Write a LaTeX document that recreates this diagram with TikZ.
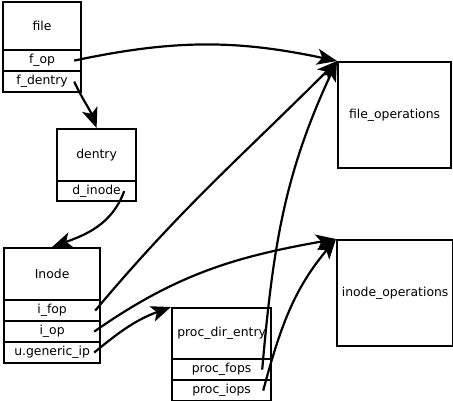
\documentclass[tikz,border=0pt]{standalone}
\usepackage{fontspec}
\setmainfont{DejaVu Sans}
\usetikzlibrary{arrows.meta}

\begin{document}
\begin{tikzpicture}[x=1pt,y=1pt,
  box/.style={draw,line width=2.2pt,anchor=north west,inner sep=0pt,
    font=\fontsize{12.4}{14}\selectfont},
  ptr/.style={line width=2.2pt,-{Stealth[length=20pt,width=16pt,inset=5pt]}}]
\useasboundingbox (0,0) rectangle (453,-401);

% struct file
\node[box,minimum width=78pt,minimum height=48pt] (file) at (2,-1) {file};
\node[box,minimum width=78pt,minimum height=21pt] (fop) at (2,-49) {f\_op};
\node[box,minimum width=78pt,minimum height=21pt] (fdentry) at (2,-70) {f\_dentry};

% struct dentry
\node[box,minimum width=79pt,minimum height=52pt] (dentry) at (56,-128) {dentry};
\node[box,minimum width=79pt,minimum height=20pt] (dinode) at (56,-180) {d\_inode};

% struct inode
\node[box,minimum width=96pt,minimum height=52pt] (inode) at (3,-247) {Inode};
\node[box,minimum width=96pt,minimum height=21pt] (ifop) at (3,-299) {i\_fop};
\node[box,minimum width=96pt,minimum height=21pt] (iop) at (3,-320) {i\_op};
\node[box,minimum width=96pt,minimum height=21pt] (generic) at (3,-341) {u.generic\_ip};

% struct proc_dir_entry
\node[box,minimum width=99pt,minimum height=51pt] (proc) at (171,-307) {proc\_dir\_entry};
\node[box,minimum width=99pt,minimum height=21pt] (pfops) at (171,-358) {proc\_fops};
\node[box,minimum width=99pt,minimum height=21pt] (piops) at (171,-379) {proc\_iops};

% operation tables
\node[box,minimum width=113pt,minimum height=106pt] (fileops) at (337,-61) {file\_operations};
\node[box,minimum width=116pt,minimum height=106pt] (inodeops) at (336,-239) {inode\_operations};

% pointers
\draw[ptr] ([xshift=-8pt]fop.east) to[out=12,in=168] (fileops.north west);
\draw[ptr] ([xshift=-8pt]fdentry.east) to[out=-65,in=110] (dentry.north);
\draw[ptr] ([xshift=-13pt]dinode.east) to[out=-110,in=20] (inode.north);
\draw[ptr] ([xshift=-6pt]ifop.east) to[out=50,in=-135] (fileops.north west);
\draw[ptr] ([xshift=-7pt]iop.east) to[out=35,in=190] (inodeops.north west);
\draw[ptr] ([xshift=-7pt]generic.east) to[out=40,in=200] (proc.north west);
\draw[ptr] ([xshift=-10pt]pfops.east) to[out=85,in=-115] (fileops.north west);
\draw[ptr] ([xshift=-9pt]piops.east) to[out=75,in=-130] (inodeops.north west);
\end{tikzpicture}
\end{document}
